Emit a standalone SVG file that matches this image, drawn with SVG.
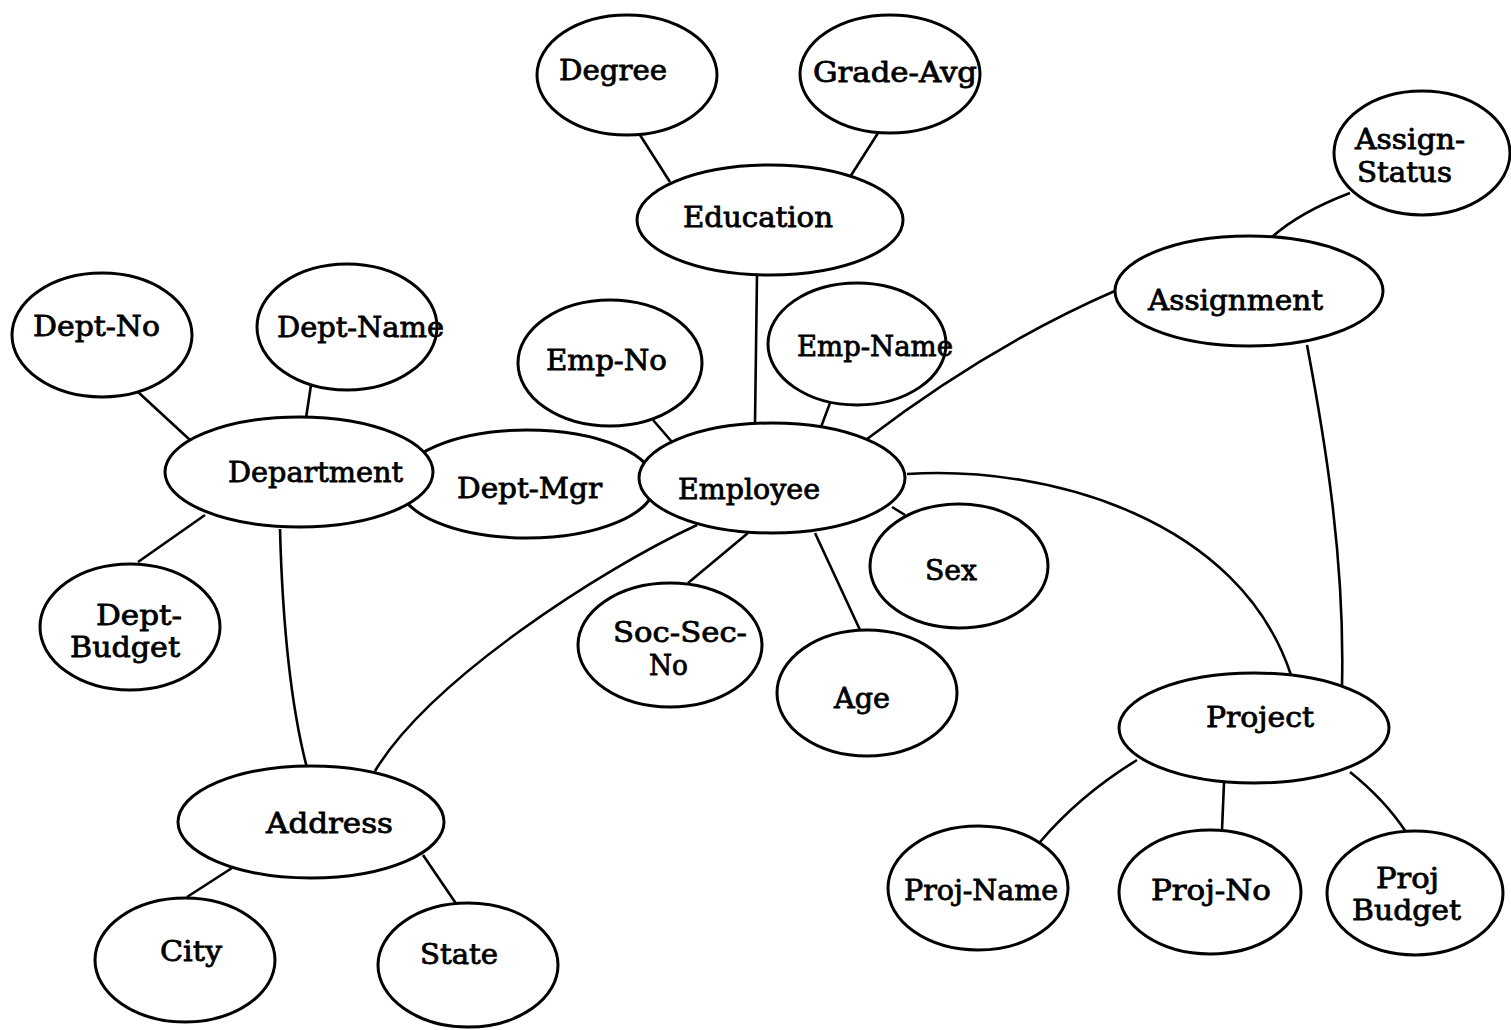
<svg xmlns="http://www.w3.org/2000/svg" width="1511" height="1030" viewBox="0 0 1511 1030">
<style>
.n ellipse{fill:#fff;stroke:#000;stroke-width:3}
.e path{fill:none;stroke:#000;stroke-width:2.6}
text{font-family:"DejaVu Serif","Liberation Serif",serif;font-size:28px;font-weight:normal;fill:#000;stroke:#000;stroke-width:0.8}
</style>
<rect width="1511" height="1030" fill="#fff"/>
<g class="e" id="connectors">
<path d="M640,135 L670,182"/>
<path d="M878,133 L850,177"/>
<path d="M757,275 L755,423"/>
<path d="M1350,193 Q1300,212 1272,237"/>
<path d="M1117,290 Q990,345 867,439"/>
<path d="M907,474 C1050,465 1240,520 1291,675"/>
<path d="M1307,345 C1325,440 1345,560 1342,686"/>
<path d="M653,420 L672,442"/>
<path d="M830,403 L821,427"/>
<path d="M892,507 L905,515"/>
<path d="M748,533 L688,583"/>
<path d="M815,533 L860,630"/>
<path d="M697,525 C600,570 430,680 375,771"/>
<path d="M138,392 L190,440"/>
<path d="M311,385 L306,418"/>
<path d="M205,515 L138,562"/>
<path d="M280,529 Q284,680 307,768"/>
<path d="M232,868 L187,897"/>
<path d="M423,855 L457,905"/>
<path d="M1137,760 Q1080,795 1040,842"/>
<path d="M1224,783 L1222,830"/>
<path d="M1350,772 Q1385,800 1406,832"/>
</g>
<g class="n" id="dept-mgr"><ellipse cx="527" cy="484" rx="128" ry="54"/><text x="457" y="498" textLength="145" lengthAdjust="spacingAndGlyphs">Dept-Mgr</text></g>
<g class="n" id="department"><ellipse cx="299" cy="472" rx="134" ry="55"/><text x="228" y="482" textLength="175" lengthAdjust="spacingAndGlyphs">Department</text></g>
<g class="n" id="employee"><ellipse cx="772" cy="478" rx="133" ry="55"/><text x="678" y="499" textLength="142" lengthAdjust="spacingAndGlyphs">Employee</text></g>
<g class="n" id="degree"><ellipse cx="627" cy="75" rx="90" ry="60"/><text x="559" y="80" textLength="108" lengthAdjust="spacingAndGlyphs">Degree</text></g>
<g class="n" id="grade-avg"><ellipse cx="890" cy="74" rx="90" ry="59"/><text x="813" y="82" textLength="164" lengthAdjust="spacingAndGlyphs">Grade-Avg</text></g>
<g class="n" id="education"><ellipse cx="770" cy="220" rx="133" ry="55"/><text x="683" y="227" textLength="150" lengthAdjust="spacingAndGlyphs">Education</text></g>
<g class="n" id="assign-status"><ellipse cx="1422" cy="153" rx="88" ry="62"/><text x="1355" y="149" textLength="110" lengthAdjust="spacingAndGlyphs">Assign-</text><text x="1357" y="182" textLength="95" lengthAdjust="spacingAndGlyphs">Status</text></g>
<g class="n" id="assignment"><ellipse cx="1249" cy="291" rx="134" ry="55"/><text x="1148" y="310" textLength="175" lengthAdjust="spacingAndGlyphs">Assignment</text></g>
<g class="n" id="dept-no"><ellipse cx="102" cy="335" rx="90" ry="62"/><text x="33" y="336" textLength="127" lengthAdjust="spacingAndGlyphs">Dept-No</text></g>
<g class="n" id="dept-name"><ellipse cx="347" cy="327" rx="90" ry="63"/><text x="277" y="337" textLength="167" lengthAdjust="spacingAndGlyphs">Dept-Name</text></g>
<g class="n" id="emp-no"><ellipse cx="610" cy="363" rx="92" ry="63"/><text x="546" y="370" textLength="121" lengthAdjust="spacingAndGlyphs">Emp-No</text></g>
<g class="n" id="emp-name"><ellipse cx="857" cy="344" rx="89" ry="61"/><text x="797" y="356" textLength="156" lengthAdjust="spacingAndGlyphs">Emp-Name</text></g>
<g class="n" id="sex"><ellipse cx="959" cy="566" rx="89" ry="62"/><text x="925" y="580" textLength="52" lengthAdjust="spacingAndGlyphs">Sex</text></g>
<g class="n" id="soc-sec-no"><ellipse cx="670" cy="645" rx="92" ry="62"/><text x="613" y="642" textLength="134" lengthAdjust="spacingAndGlyphs">Soc-Sec-</text><text x="649" y="675" textLength="39" lengthAdjust="spacingAndGlyphs">No</text></g>
<g class="n" id="age"><ellipse cx="867" cy="693" rx="90" ry="63"/><text x="834" y="708" textLength="56" lengthAdjust="spacingAndGlyphs">Age</text></g>
<g class="n" id="dept-budget"><ellipse cx="130" cy="627" rx="90" ry="63"/><text x="96" y="625" textLength="86" lengthAdjust="spacingAndGlyphs">Dept-</text><text x="70" y="657" textLength="110" lengthAdjust="spacingAndGlyphs">Budget</text></g>
<g class="n" id="address"><ellipse cx="311" cy="822" rx="133" ry="56"/><text x="266" y="833" textLength="127" lengthAdjust="spacingAndGlyphs">Address</text></g>
<g class="n" id="city"><ellipse cx="185" cy="960" rx="90" ry="62"/><text x="160" y="961" textLength="62" lengthAdjust="spacingAndGlyphs">City</text></g>
<g class="n" id="state"><ellipse cx="468" cy="965" rx="90" ry="62"/><text x="420" y="964" textLength="78" lengthAdjust="spacingAndGlyphs">State</text></g>
<g class="n" id="project"><ellipse cx="1254" cy="728" rx="135" ry="55"/><text x="1206" y="727" textLength="108" lengthAdjust="spacingAndGlyphs">Project</text></g>
<g class="n" id="proj-name"><ellipse cx="978" cy="888" rx="90" ry="62"/><text x="904" y="900" textLength="154" lengthAdjust="spacingAndGlyphs">Proj-Name</text></g>
<g class="n" id="proj-no"><ellipse cx="1210" cy="892" rx="91" ry="62"/><text x="1151" y="900" textLength="120" lengthAdjust="spacingAndGlyphs">Proj-No</text></g>
<g class="n" id="proj-budget"><ellipse cx="1415" cy="893" rx="88" ry="62"/><text x="1376" y="888" textLength="63" lengthAdjust="spacingAndGlyphs">Proj</text><text x="1352" y="920" textLength="109" lengthAdjust="spacingAndGlyphs">Budget</text></g>
</svg>
